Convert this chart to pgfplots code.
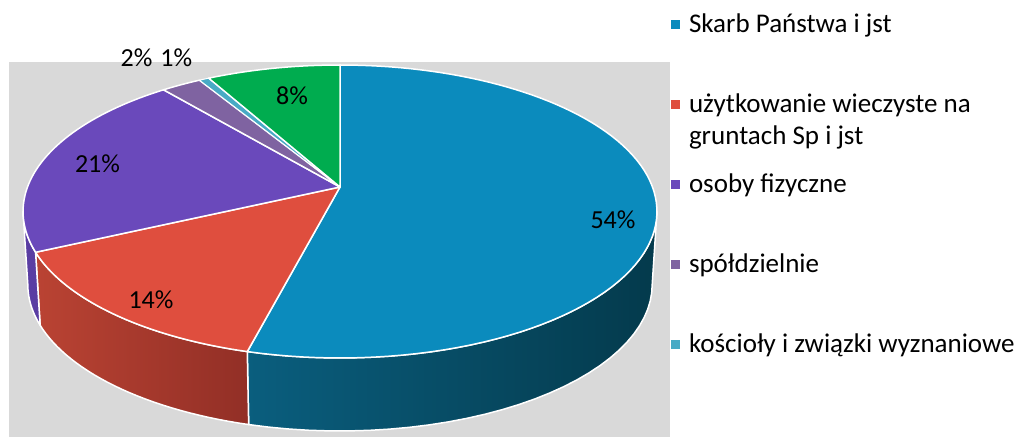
\documentclass[border=0pt]{standalone}
\usepackage{fontspec}
\setmainfont{Carlito}
\usepackage{pgfplots}
\usepackage{pgfplotstable}
\pgfplotsset{compat=1.18}
\definecolor{cBlue}{HTML}{0B8BBD}
\definecolor{cRed}{HTML}{DF4E3E}
\definecolor{cPurple}{HTML}{6A49BB}
\definecolor{cCoop}{HTML}{7F63A1}
\definecolor{cTeal}{HTML}{48AAC5}
\definecolor{cGreen}{HTML}{00AC4F}
\definecolor{cGray}{HTML}{D9D9D9}
\definecolor{wBlueL}{HTML}{0A5E7E}
\definecolor{wBlueM}{HTML}{03303F}
\definecolor{wBlueR}{HTML}{043A4C}
\definecolor{wRedL}{HTML}{BA4333}
\definecolor{wRedR}{HTML}{922F26}
\definecolor{wPurple}{HTML}{5A3DA3}

% shares (%) in order: Skarb Panstwa, uzytkowanie wieczyste, osoby fizyczne,
% spoldzielnie, koscioly, inne
\pgfplotstableread{
share
54
14
21
2.4
0.6
8
}\piedata

\newcommand\getshare[1]{\pgfplotstablegetelem{#1}{share}\of\piedata}
\getshare{0}\pgfmathsetmacro\aA{3.6*\pgfplotsretval}
\getshare{1}\pgfmathsetmacro\aB{\aA+3.6*\pgfplotsretval}
\getshare{2}\pgfmathsetmacro\aC{\aB+3.6*\pgfplotsretval}
\getshare{3}\pgfmathsetmacro\aD{\aC+3.6*\pgfplotsretval}
\getshare{4}\pgfmathsetmacro\aE{\aD+3.6*\pgfplotsretval}
\getshare{5}\pgfmathsetmacro\aF{\aE+3.6*\pgfplotsretval}
\pgfmathsetmacro\aR{180-acos(0.1672)}
\pgfmathsetmacro\aL{180+acos(0.1672)}

\pgfplotsset{
  sq/.style={legend image code/.code={\fill[##1,draw=none] (0bp,-4.5bp) rectangle (9bp,4.5bp);}},
}

\begin{document}
\begin{tikzpicture}[font=\fontsize{26bp}{32bp}\selectfont]
\begin{axis}[
  scale only axis, width=1016bp, height=437bp,
  xmin=0, xmax=1016, ymin=0, ymax=437, y dir=reverse,
  hide axis, clip=false,
  declare function={
    PX(\u)=340+312.5*sin(\u)/(1+0.1672*cos(\u));
    PY(\u)=187-142.4*cos(\u)/(1+0.1672*cos(\u));
    BX(\u)=340+0.985*312.5*sin(\u)/(1+0.1672*cos(\u));
    BY(\u)=260-142.4*cos(\u)/(1+0.1672*cos(\u));
    WX(\s,\p,\q)=ifthenelse(\s<=1,PX(\p+(\q-\p)*\s),ifthenelse(\s<=2,PX(\q)+(BX(\q)-PX(\q))*(\s-1),BX(\q-(\q-\p)*(\s-2))));
    WY(\s,\p,\q)=ifthenelse(\s<=1,PY(\p+(\q-\p)*\s),ifthenelse(\s<=2,PY(\q)+(BY(\q)-PY(\q))*(\s-1),BY(\q-(\q-\p)*(\s-2))));
  },
  legend style={at={(axis cs:671,-15.3)}, anchor=north west, draw=none, fill=none,
    inner sep=0pt, outer sep=0pt, row sep=0pt, column sep=9bp,
    font=\fontsize{27bp}{32bp}\selectfont,
    nodes={inner sep=0pt, text height=48bp, text depth=32bp}},
  legend cell align=left,
]
% background
\addplot[forget plot, fill=cGray, draw=none] coordinates {(9,62) (670,62) (670,437) (9,437)} -- cycle;

% side walls
\addplot[forget plot, draw=white, line width=1.5bp, line join=round, left color=wBlueL, middle color=wBlueM, right color=wBlueR,
  domain=0:3, samples=91, variable=\t] ({WX(\t,\aR,\aA)},{WY(\t,\aR,\aA)}) -- cycle;
\addplot[forget plot, draw=white, line width=1.5bp, line join=round, left color=wRedL, right color=wRedR,
  domain=0:3, samples=91, variable=\t] ({WX(\t,\aA,\aB)},{WY(\t,\aA,\aB)}) -- cycle;
\addplot[forget plot, draw=white, line width=1.5bp, line join=round, fill=wPurple,
  domain=0:3, samples=91, variable=\t] ({WX(\t,\aB,\aL)},{WY(\t,\aB,\aL)}) -- cycle;

% top faces
\addplot[forget plot, fill=cBlue, draw=white, line width=1.5bp, line join=round, domain=0:\aA, samples=90, variable=\t]
  ({PX(\t)},{PY(\t)}) -- (axis cs:340,187) -- cycle;
\addplot[forget plot, fill=cRed, draw=white, line width=1.5bp, line join=round, domain=\aA:\aB, samples=40, variable=\t]
  ({PX(\t)},{PY(\t)}) -- (axis cs:340,187) -- cycle;
\addplot[forget plot, fill=cPurple, draw=white, line width=1.5bp, line join=round, domain=\aB:\aC, samples=50, variable=\t]
  ({PX(\t)},{PY(\t)}) -- (axis cs:340,187) -- cycle;
\addplot[forget plot, fill=cCoop, draw=white, line width=1.5bp, line join=round, domain=\aC:\aD, samples=10, variable=\t]
  ({PX(\t)},{PY(\t)}) -- (axis cs:340,187) -- cycle;
\addplot[forget plot, fill=cTeal, draw=white, line width=1bp, line join=round, domain=\aD:\aE, samples=6, variable=\t]
  ({PX(\t)},{PY(\t)}) -- (axis cs:340,187) -- cycle;
\addplot[forget plot, fill=cGreen, draw=white, line width=1.5bp, line join=round, domain=\aE:\aF, samples=20, variable=\t]
  ({PX(\t)},{PY(\t)}) -- (axis cs:340,187) -- cycle;

% data labels
\node[inner sep=0pt] at (axis cs:613,220) {54\%};
\node[inner sep=0pt] at (axis cs:151,300) {14\%};
\node[inner sep=0pt] at (axis cs:97.5,164) {21\%};
\node[inner sep=0pt] at (axis cs:136.5,57.5) {2\%};
\node[inner sep=0pt] at (axis cs:176.3,57.5) {1\%};
\node[inner sep=0pt] at (axis cs:292,96) {8\%};

% legend
\addlegendimage{sq, fill=cBlue}
\addlegendentry{Skarb Państwa i jst}
\addlegendimage{sq, fill=cRed}
\addlegendentry{\begin{tabular}[t]{@{}l@{}}użytkowanie wieczyste na\\gruntach Sp i jst\end{tabular}}
\addlegendimage{sq, fill=cPurple}
\addlegendentry{osoby fizyczne}
\addlegendimage{sq, fill=cCoop}
\addlegendentry{spółdzielnie}
\addlegendimage{sq, fill=cTeal}
\addlegendentry{kościoły i związki wyznaniowe}
\end{axis}
\pgfresetboundingbox
\useasboundingbox (current axis.south west) rectangle (current axis.north east);
\end{tikzpicture}
\end{document}
